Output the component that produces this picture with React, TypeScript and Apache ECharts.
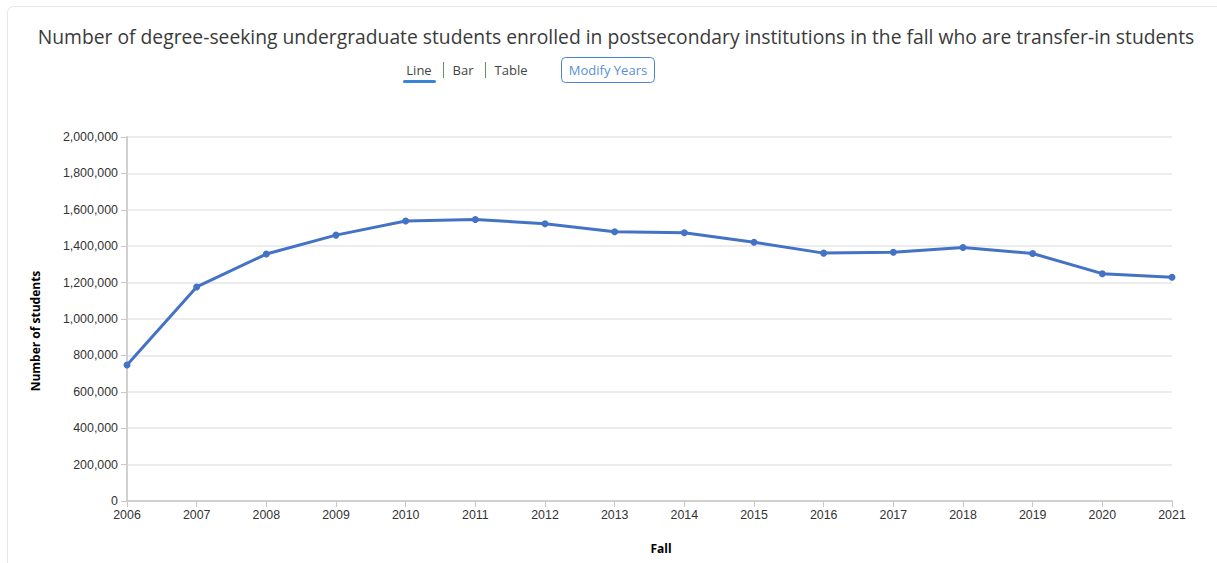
import React, { useEffect, useRef } from "react";
import * as echarts from "echarts";

// Fall terms on the horizontal axis
const years: string[] = [
  "2006", "2007", "2008", "2009", "2010", "2011", "2012", "2013",
  "2014", "2015", "2016", "2017", "2018", "2019", "2020", "2021",
];

// Transfer-in degree-seeking undergraduates enrolled each fall
const transferIn: number[] = [
  747000, 1176000, 1357000, 1461000, 1538000, 1547000, 1523000, 1479000,
  1474000, 1422000, 1362000, 1367000, 1393000, 1360000, 1249000, 1229000,
];

const titleText =
  "Number of degree-seeking undergraduate students enrolled in postsecondary institutions in the fall who are transfer-in students";
const viewTabs: string[] = ["Line", "Bar", "Table"];

const W = 1217;
const H = 563;

export default function App() {
  const ref = useRef<HTMLDivElement>(null);

  useEffect(() => {
    if (!ref.current) return;
    const chart = echarts.init(ref.current, undefined, { renderer: "svg" });
    const uiFont = "'Open Sans', 'Noto Sans', sans-serif";
    const axisFont = "'Liberation Sans', Arial, sans-serif";

    chart.setOption({
      animation: false,
      backgroundColor: "#ffffff",
      grid: { left: 127, right: 45, top: 137, bottom: 62, containLabel: false },
      xAxis: {
        type: "category",
        data: years,
        boundaryGap: false,
        axisLine: { show: true, lineStyle: { color: "#d0d0d0", width: 2 } },
        axisTick: { show: true, alignWithLabel: true, length: 6, lineStyle: { color: "#c8c8c8" } },
        axisLabel: { color: "#333", fontFamily: axisFont, fontSize: 12.4, margin: 8 },
        splitLine: { show: false },
      },
      yAxis: {
        type: "value",
        min: 0,
        max: 2000000,
        interval: 200000,
        axisLine: { show: true, lineStyle: { color: "#d0d0d0", width: 2 } },
        axisTick: { show: true, length: 6, lineStyle: { color: "#c8c8c8" } },
        axisLabel: {
          color: "#333",
          fontFamily: axisFont,
          fontSize: 12.4,
          margin: 9,
          formatter: (v: number) => v.toLocaleString("en-US"),
        },
        splitLine: { show: true, lineStyle: { color: "#ececec", width: 2 } },
      },
      series: [
        {
          type: "line",
          data: transferIn,
          symbol: "circle",
          symbolSize: 7,
          showSymbol: true,
          lineStyle: { color: "#4472c4", width: 3 },
          itemStyle: { color: "#4472c4" },
          clip: false,
        },
      ],
      graphic: [
        // card outline
        {
          type: "rect",
          shape: { x: 7.5, y: 6.5, width: W + 20, height: H + 20, r: 6 },
          style: { fill: "none", stroke: "#e6e6e6", lineWidth: 1 },
          silent: true,
          z: -1,
        },
        {
          type: "text",
          x: 616,
          y: 36,
          style: {
            text: titleText,
            fontFamily: uiFont,
            fontSize: 19.3,
            fill: "#3a3a3a",
            align: "center",
            verticalAlign: "middle",
          },
        },
        // view switch
        {
          type: "text",
          x: 419,
          y: 70,
          style: { text: viewTabs[0], fontFamily: uiFont, fontSize: 13, fill: "#444", align: "center", verticalAlign: "middle" },
        },
        {
          type: "rect",
          shape: { x: 403, y: 80, width: 33, height: 3, r: 1.5 },
          style: { fill: "#3a84d4" },
        },
        { type: "line", shape: { x1: 443.5, y1: 62, x2: 443.5, y2: 78 }, style: { stroke: "#5a9a5a", lineWidth: 1 } },
        {
          type: "text",
          x: 463,
          y: 70,
          style: { text: viewTabs[1], fontFamily: uiFont, fontSize: 13, fill: "#444", align: "center", verticalAlign: "middle" },
        },
        { type: "line", shape: { x1: 485.5, y1: 62, x2: 485.5, y2: 78 }, style: { stroke: "#5a9a5a", lineWidth: 1 } },
        {
          type: "text",
          x: 511,
          y: 70,
          style: { text: viewTabs[2], fontFamily: uiFont, fontSize: 13, fill: "#444", align: "center", verticalAlign: "middle" },
        },
        {
          type: "rect",
          shape: { x: 561.5, y: 57.5, width: 93, height: 25, r: 4 },
          style: { fill: "#fff", stroke: "#4a86cf", lineWidth: 1 },
        },
        {
          type: "text",
          x: 608,
          y: 70,
          style: { text: "Modify Years", fontFamily: uiFont, fontSize: 13, fill: "#5a8fd6", align: "center", verticalAlign: "middle" },
        },
        // axis names
        {
          type: "text",
          x: 35,
          y: 331,
          rotation: Math.PI / 2,
          style: {
            text: "Number of students",
            fontFamily: uiFont,
            fontWeight: "bold",
            fontSize: 12,
            fill: "#000",
            align: "center",
            verticalAlign: "middle",
          },
        },
        {
          type: "text",
          x: 661,
          y: 548,
          style: {
            text: "Fall",
            fontFamily: uiFont,
            fontWeight: "bold",
            fontSize: 12,
            fill: "#000",
            align: "center",
            verticalAlign: "middle",
          },
        },
      ],
    });

    return () => chart.dispose();
  }, []);

  return (
    <div
      ref={ref}
      style={{ position: "fixed", left: 0, top: 0, width: W, height: H }}
    />
  );
}
